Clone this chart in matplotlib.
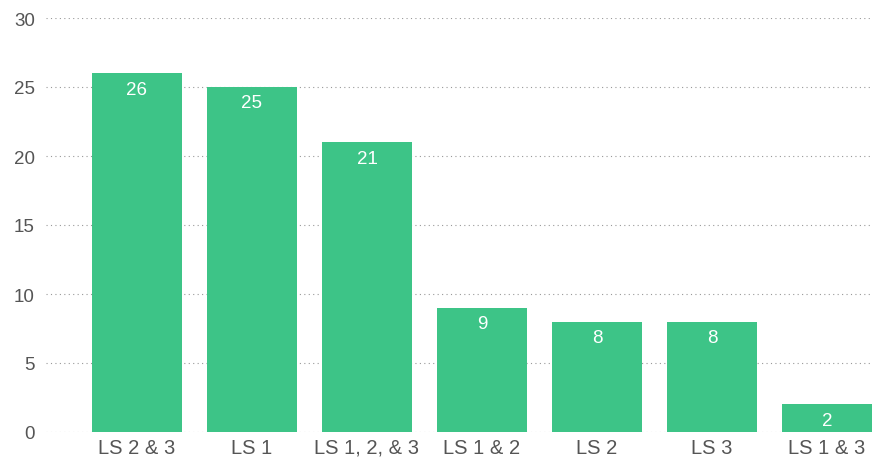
import matplotlib.pyplot as plt

# combinaciones y conteos
categories = ['LS 2 & 3', 'LS 1', 'LS 1, 2, & 3', 'LS 1 & 2', 'LS 2', 'LS 3', 'LS 1 & 3']
counts = [26, 25, 21, 9, 8, 8, 2]

plt.rcParams['font.family'] = ['Liberation Sans', 'DejaVu Sans']

fig = plt.figure(figsize=(8.73, 4.6), dpi=100)
ax = fig.add_axes([46 / 873, 27 / 460, 827 / 873, 414 / 460])

x = list(range(len(categories)))
bars = ax.bar(x, counts, width=0.783, color='#3dc487', zorder=2)

# etiquetas blancas dentro de la barra
for b, v in zip(bars, counts):
    ax.annotate(str(v), (b.get_x() + b.get_width() / 2, v), xytext=(0, -11.5),
                textcoords='offset points', ha='center', va='center',
                color='white', fontsize=13.5)

ax.set_ylim(0, 30)
ax.set_xlim(-0.791, 6.4)
ax.set_yticks(range(0, 31, 5))
ax.set_xticks(x)
ax.set_xticklabels(categories)
ax.grid(axis='y', linestyle=(0, (1, 3)), color='#999999', linewidth=0.8, zorder=1)
for s in ax.spines.values():
    s.set_visible(False)
ax.tick_params(axis='both', length=0, colors='#555555')
ax.tick_params(axis='y', pad=8, labelsize=13.5)
ax.tick_params(axis='x', pad=4, labelsize=14.5)

plt.savefig('out.png', dpi=100)
